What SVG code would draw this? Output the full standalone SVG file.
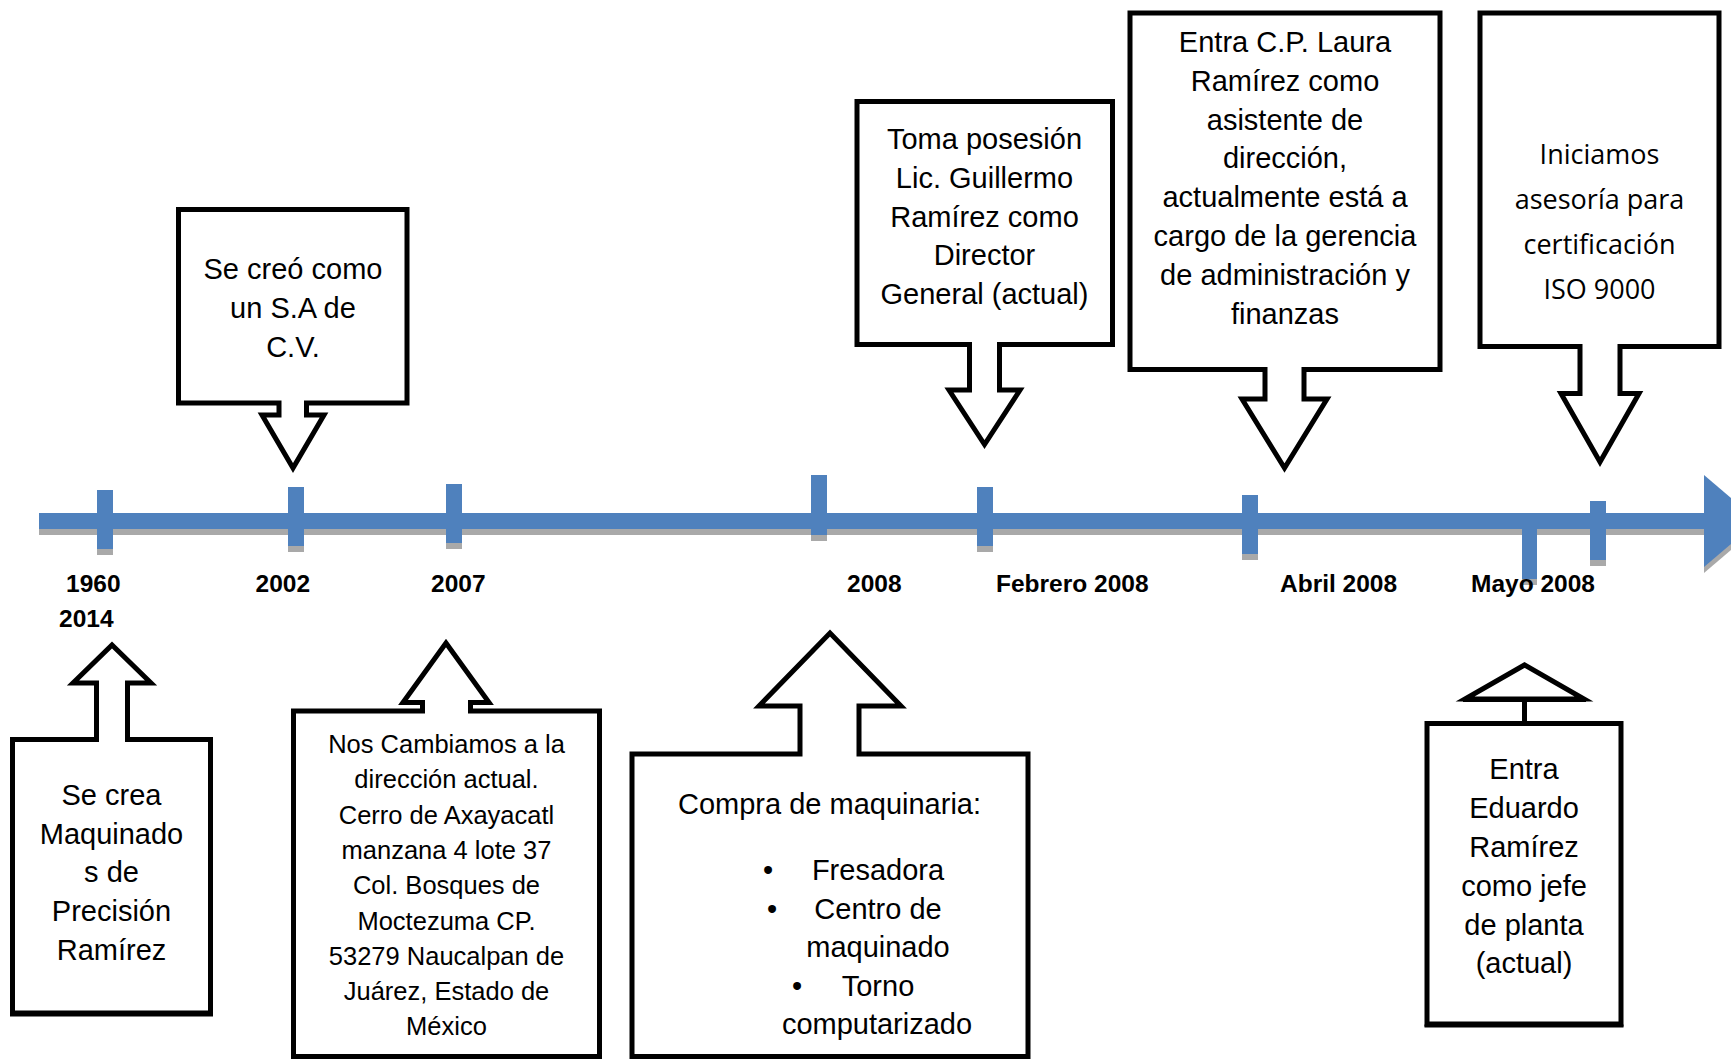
<svg xmlns="http://www.w3.org/2000/svg" width="1731" height="1059" viewBox="0 0 1731 1059">
<style>
.co{fill:#fff;stroke:#000;stroke-width:5;stroke-linejoin:miter;stroke-miterlimit:10}
.t{font-family:"Liberation Sans",Arial,sans-serif;font-size:29px;fill:#000;text-anchor:middle}
.tn{font-family:"Liberation Sans",Arial,sans-serif;font-size:25.5px;fill:#000;text-anchor:middle}
.tc{font-family:"Open Sans","Noto Sans",sans-serif;font-size:27px;fill:#000;text-anchor:middle}
.lb{font-family:"Liberation Sans",Arial,sans-serif;font-size:24.5px;font-weight:bold;fill:#000}
.blue{fill:#4F81BD}
.sh{fill:#A9A9A9}
</style>
<defs>
<g id="axis">
<rect x="39" y="513" width="1666" height="16"/>
<polygon points="1704,475 1758,521 1704,567"/>
<rect x="97" y="490" width="16" height="59"/>
<rect x="288" y="487" width="16" height="59"/>
<rect x="446" y="484" width="16" height="59"/>
<rect x="811" y="475" width="16" height="60"/>
<rect x="977" y="487" width="16" height="59"/>
<rect x="1242" y="495" width="16" height="59"/>
<rect x="1522" y="513" width="15" height="66"/>
<rect x="1590" y="501" width="16" height="59"/>
</g>
</defs>
<rect width="1731" height="1059" fill="#fff"/>
<g id="connectors">
<use href="#axis" class="sh" transform="translate(0,6)"/>
<use href="#axis" class="blue"/>
</g>
<g id="labels">
<text class="lb" x="66" y="592">1960</text>
<text class="lb" x="59" y="627">2014</text>
<text class="lb" x="255.5" y="592">2002</text>
<text class="lb" x="431" y="592">2007</text>
<text class="lb" x="847" y="592">2008</text>
<text class="lb" x="996" y="592">Febrero 2008</text>
<text class="lb" x="1280" y="592">Abril 2008</text>
<text class="lb" x="1471" y="592">Mayo 2008</text>
</g>
<g id="n2002">
<path class="co" d="M178.5,209.5 H407 V403 H306.5 V415 H324 L293,468 L262,415 H279 V403 H178.5 Z"/>
<text class="t" x="293" y="279">Se creó como</text>
<text class="t" x="293" y="318">un S.A de</text>
<text class="t" x="293" y="357">C.V.</text>
</g>
<g id="nFeb2008">
<path class="co" d="M857,101.5 H1112.5 V344.5 H999.5 V390 H1020 L984.5,444.5 L949,390 H969.5 V344.5 H857 Z"/>
<text class="t" x="984.5" y="149">Toma posesión</text>
<text class="t" x="984.5" y="188">Lic. Guillermo</text>
<text class="t" x="984.5" y="226.5">Ramírez como</text>
<text class="t" x="984.5" y="265">Director</text>
<text class="t" x="984.5" y="304">General (actual)</text>
</g>
<g id="nAbr2008">
<path class="co" d="M1130,13 H1440 V369.5 H1304 V399 H1327 L1284.5,468 L1242,399 H1265 V369.5 H1130 Z"/>
<text class="t" x="1285" y="52">Entra C.P. Laura</text>
<text class="t" x="1285" y="91">Ramírez como</text>
<text class="t" x="1285" y="129.5">asistente de</text>
<text class="t" x="1285" y="168">dirección,</text>
<text class="t" x="1285" y="207">actualmente está a</text>
<text class="t" x="1285" y="246">cargo de la gerencia</text>
<text class="t" x="1285" y="285">de administración y</text>
<text class="t" x="1285" y="323.5">finanzas</text>
</g>
<g id="nISO">
<path class="co" d="M1480,13 H1719 V346.5 H1620 V393.5 H1639 L1600,462 L1561,393.5 H1580 V346.5 H1480 Z"/>
<text class="tc" x="1599.5" y="163.5">Iniciamos</text>
<text class="tc" x="1599.5" y="208.5">asesoría para</text>
<text class="tc" x="1599.5" y="253.5">certificación</text>
<text class="tc" x="1599.5" y="298.5">ISO 9000</text>
</g>
<g id="n1960">
<path class="co" d="M12.5,739.5 H96.5 V683 H73 L112,645 L151,683 H127.5 V739.5 H210.5 V1013 H12.5 Z"/>
<line x1="10" y1="1015" x2="213" y2="1015" stroke="#000" stroke-width="3"/>
<text class="t" x="111.5" y="805">Se crea</text>
<text class="t" x="111.5" y="843.5">Maquinado</text>
<text class="t" x="111.5" y="882">s de</text>
<text class="t" x="111.5" y="921">Precisión</text>
<text class="t" x="111.5" y="959.5">Ramírez</text>
</g>
<g id="n2007">
<path class="co" d="M293.5,711 H422.5 V702.5 H403 L446,643 L489,702.5 H470.5 V711 H599.5 V1056.5 H293.5 Z"/>
<text class="tn" x="446.5" y="753">Nos Cambiamos a la</text>
<text class="tn" x="446.5" y="788">dirección actual.</text>
<text class="tn" x="446.5" y="824">Cerro de Axayacatl</text>
<text class="tn" x="446.5" y="859">manzana 4 lote 37</text>
<text class="tn" x="446.5" y="894">Col. Bosques de</text>
<text class="tn" x="446.5" y="930">Moctezuma CP.</text>
<text class="tn" x="446.5" y="965">53279 Naucalpan de</text>
<text class="tn" x="446.5" y="1000">Juárez, Estado de</text>
<text class="tn" x="446.5" y="1035">México</text>
</g>
<g id="n2008">
<path class="co" d="M632,754 H800 V706 H759 L830,633 L901,706 H859 V754 H1028 V1056.5 H632 Z"/>
<text class="t" x="829.5" y="814">Compra de maquinaria:</text>
<text class="t" x="768" y="880">•</text>
<text class="t" x="878" y="880">Fresadora</text>
<text class="t" x="772" y="918.5">•</text>
<text class="t" x="878" y="918.5">Centro de</text>
<text class="t" x="878" y="957">maquinado</text>
<text class="t" x="797" y="995.5">•</text>
<text class="t" x="878" y="995.5">Torno</text>
<text class="t" x="877" y="1034">computarizado</text>
</g>
<g id="nMayo2008">
<path class="co" d="M1427,723.5 H1524.5 V699 H1465 L1524.5,665 L1584,699 H1524.5 V723.5 H1621 V1024 H1427 Z"/>
<line x1="1424.5" y1="1026" x2="1623.5" y2="1026" stroke="#000" stroke-width="3"/>
<line x1="1463" y1="700.5" x2="1586" y2="700.5" stroke="#000" stroke-width="3"/>
<text class="t" x="1524" y="779">Entra</text>
<text class="t" x="1524" y="818">Eduardo</text>
<text class="t" x="1524" y="857">Ramírez</text>
<text class="t" x="1524" y="895.5">como jefe</text>
<text class="t" x="1524" y="934.5">de planta</text>
<text class="t" x="1524" y="973">(actual)</text>
</g>
</svg>
